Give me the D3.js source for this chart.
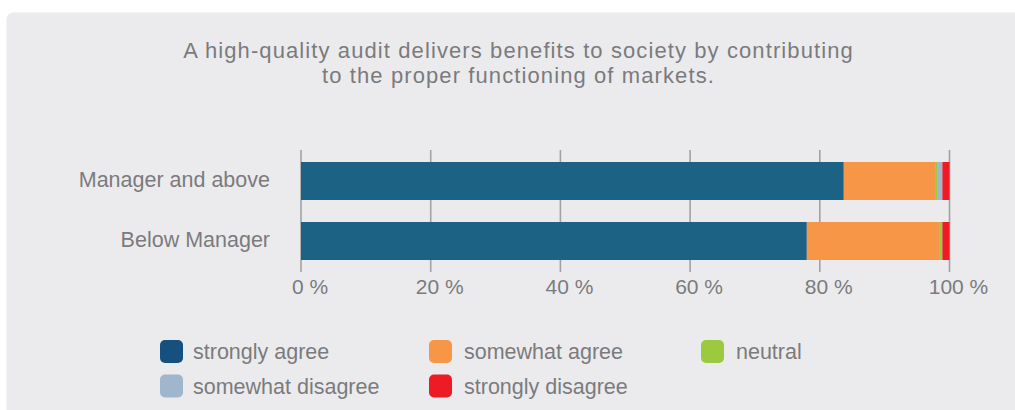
<!DOCTYPE html>
<html>
<head>
<meta charset="utf-8">
<script src="https://cdn.jsdelivr.net/npm/d3@7/dist/d3.min.js"></script>
<style>
  html, body { margin: 0; padding: 0; background: #ffffff; }
  svg { display: block; }
  text { font-family: "Liberation Sans", Arial, Helvetica, sans-serif; fill: #7b7b7d; }
</style>
</head>
<body>
<svg id="chart" width="1015" height="410"></svg>
<script>
// Survey groups (top to bottom)
const categories = ["Manager and above", "Below Manager"];

// Response shares, in percent, per group
const series = ["strongly agree", "somewhat agree", "neutral", "somewhat disagree", "strongly disagree"];
const stronglyAgree    = [83.7, 78.0];
const somewhatAgree    = [14.2, 20.4];
const neutral          = [0.3, 0.5];
const somewhatDisagree = [0.7, 0.0];
const stronglyDisagree = [1.1, 1.1];

const tickValues = [0, 20, 40, 60, 80, 100];
const titleLines = [
  "A high-quality audit delivers benefits to society by contributing",
  "to the proper functioning of markets."
];

const barColors = ["#1c6284", "#f79646", "#9bc93f", "#9fb6cd", "#ed1c24"];
const legendColors = ["#16507f", "#f79646", "#9bc93f", "#9fb6cd", "#ed1c24"];

const rows = categories.map((c, i) => ({
  category: c,
  "strongly agree": stronglyAgree[i],
  "somewhat agree": somewhatAgree[i],
  "neutral": neutral[i],
  "somewhat disagree": somewhatDisagree[i],
  "strongly disagree": stronglyDisagree[i]
}));

const svg = d3.select("#chart");

// Panel background
svg.append("rect")
  .attr("x", 6.5).attr("y", 12.5)
  .attr("width", 1030).attr("height", 420)
  .attr("rx", 7)
  .attr("fill", "#ebebed");

// Title
svg.append("g").selectAll("text")
  .data(titleLines)
  .join("text")
  .attr("x", 518.5)
  .attr("y", (d, i) => 57.7 + i * 25.6)
  .attr("text-anchor", "middle")
  .style("font-size", "22px")
  .style("letter-spacing", "1.1px")
  .text(d => d);

const x = d3.scaleLinear().domain([0, 100]).range([301, 949.5]);
const y = d3.scaleBand().domain(categories).range([151, 271])
  .paddingInner(22 / 60).paddingOuter(11 / 60);

// Vertical grid lines at each tick
svg.append("g").selectAll("line")
  .data(tickValues)
  .join("line")
  .attr("x1", d => x(d)).attr("x2", d => x(d))
  .attr("y1", 150).attr("y2", 272)
  .attr("stroke", "#a2a2a4")
  .attr("stroke-width", 1.6);

// Stacked bars
const stacked = d3.stack().keys(series)(rows);
svg.append("g").selectAll("g")
  .data(stacked)
  .join("g")
  .attr("fill", (d, i) => barColors[i])
  .selectAll("rect")
  .data(d => d)
  .join("rect")
  .attr("x", d => x(d[0]))
  .attr("width", d => Math.max(0, x(d[1]) - x(d[0])))
  .attr("y", d => y(d.data.category))
  .attr("height", y.bandwidth());

// Category labels
const yAxis = svg.append("g")
  .attr("transform", "translate(270,0)")
  .call(d3.axisLeft(y).tickSize(0).tickPadding(0));
yAxis.select(".domain").remove();
yAxis.selectAll("text")
  .attr("fill", null)
  .attr("dy", "0.3em")
  .style("font-size", "21.5px")
  .style("font-family", null);

// Percent tick labels
const xAxis = svg.append("g")
  .attr("transform", "translate(0,272)")
  .call(d3.axisBottom(x).tickValues(tickValues).tickSize(0).tickPadding(0)
    .tickFormat(d => d + " %"));
xAxis.select(".domain").remove();
xAxis.selectAll("text")
  .attr("fill", null)
  .attr("x", 8.5)
  .attr("y", 22)
  .attr("dy", null)
  .style("font-size", "21px")
  .style("font-family", null);

// Legend: three columns, two rows
const swatchX = [160, 429, 701];
const labelX = [193, 464, 736];
const rowY = [340, 374.5];
const legend = svg.append("g").selectAll("g")
  .data(series)
  .join("g")
  .attr("transform", (d, i) => `translate(0,${rowY[Math.floor(i / 3)]})`);
legend.append("rect")
  .attr("x", (d, i) => swatchX[i % 3])
  .attr("width", 23).attr("height", 23).attr("rx", 5)
  .attr("fill", (d, i) => legendColors[i]);
legend.append("text")
  .attr("x", (d, i) => labelX[i % 3]).attr("y", 19)
  .style("font-size", "21.5px")
  .text(d => d);
</script>
</body>
</html>
